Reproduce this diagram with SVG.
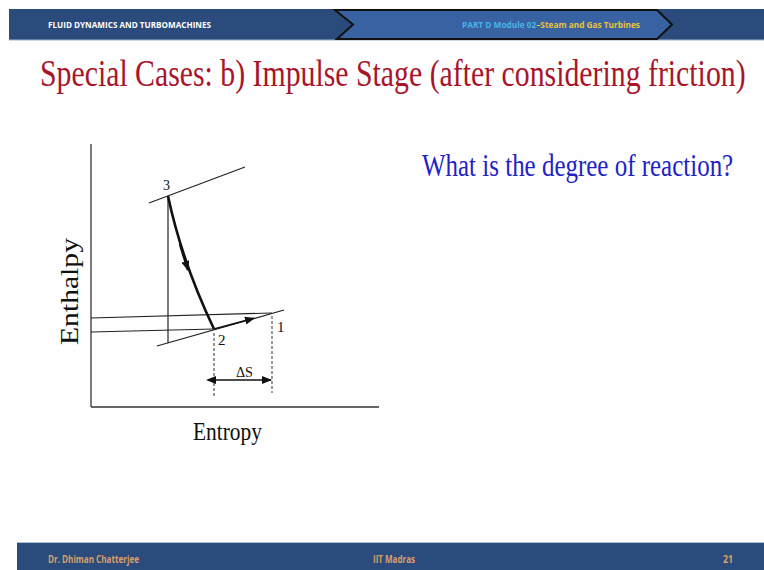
<svg xmlns="http://www.w3.org/2000/svg" width="764" height="570" viewBox="0 0 764 570">
<style>
.ln{stroke:#222;stroke-width:1.2;fill:none}
.dash{stroke:#333;stroke-width:1;stroke-dasharray:3,2;fill:none}
.lbl{font-family:"Liberation Serif",serif;fill:#111}
.hdr{font-family:"Open Sans","Liberation Sans",sans-serif;font-weight:bold}
</style>
<defs>
<marker id="ah" markerWidth="10" markerHeight="8" refX="9" refY="4" orient="auto" markerUnits="userSpaceOnUse">
<path d="M0,0 L10,4 L0,8 Z" fill="#111"/>
</marker>
<marker id="ahs" markerWidth="10" markerHeight="8" refX="1" refY="4" orient="auto-start-reverse" markerUnits="userSpaceOnUse">
<path d="M0,0 L10,4 L0,8 Z" fill="#111"/>
</marker>
</defs>
<rect width="764" height="570" fill="#fdfefd"/>
<g id="header">
<rect x="9" y="9" width="755" height="31" fill="#2b4b7c"/>
<line x1="9" y1="40" x2="764" y2="40" stroke="#9fb6d0" stroke-width="1"/>
<path d="M335,10 L657,10 L672,24.5 L657,39 L337,39 L353,24.5 Z" fill="#3862a2" stroke="#111" stroke-width="2"/>
<text class="hdr" x="48" y="28" font-size="9" fill="#ffffff" textLength="163" lengthAdjust="spacingAndGlyphs">FLUID DYNAMICS AND TURBOMACHINES</text>
<text class="hdr" x="462" y="28" font-size="9" textLength="178" lengthAdjust="spacingAndGlyphs"><tspan fill="#4bb3ea">PART D  Module 02</tspan><tspan fill="#e9c43a">–Steam and Gas Turbines</tspan></text>
</g>
<g id="title">
<text transform="translate(40,86) scale(0.8,1)" font-family="Liberation Serif,serif" font-size="38" fill="#a8152a" textLength="882" lengthAdjust="spacingAndGlyphs">Special Cases: b) Impulse Stage (after considering friction)</text>
</g>
<g id="question">
<text transform="translate(422,176) scale(0.8,1)" font-family="Liberation Serif,serif" font-size="31" fill="#2222c4" textLength="389" lengthAdjust="spacingAndGlyphs">What is the degree of reaction?</text>
</g>
<g id="axes">
<line x1="91" y1="144" x2="91" y2="407" stroke="#333" stroke-width="1.3"/>
<line x1="91" y1="407" x2="379" y2="407" stroke="#333" stroke-width="1.3"/>
<text class="lbl" transform="translate(78,345) rotate(-90)" font-size="25" textLength="107" lengthAdjust="spacingAndGlyphs">Enthalpy</text>
<text class="lbl" x="193" y="440" font-size="25" textLength="69" lengthAdjust="spacingAndGlyphs">Entropy</text>
</g>
<g id="connectors">
<line class="ln" x1="149" y1="203" x2="245" y2="167"/>
<line class="ln" x1="157" y1="346" x2="284" y2="310"/>
<line class="ln" x1="168" y1="196" x2="168" y2="343"/>
<line class="ln" x1="91" y1="318" x2="272" y2="313"/>
<line class="ln" x1="91" y1="332" x2="214" y2="329"/>
<path d="M168,196 Q182,262 214,329" stroke="#111" stroke-width="2.6" fill="none"/>
<line x1="180" y1="244" x2="188" y2="270" stroke="#111" stroke-width="2.6" marker-end="url(#ah)"/>
<line x1="214" y1="329" x2="254" y2="318.3" stroke="#111" stroke-width="1.6" marker-end="url(#ah)"/>
<line class="dash" x1="214" y1="333" x2="214" y2="398"/>
<line class="dash" x1="272" y1="316" x2="272" y2="393"/>
<line x1="215" y1="380" x2="271" y2="380" stroke="#111" stroke-width="1.4" marker-start="url(#ahs)" marker-end="url(#ah)"/>
</g>
<g id="labels">
<text class="lbl" x="163" y="190" font-size="14">3</text>
<text class="lbl" x="218" y="345" font-size="15">2</text>
<text class="lbl" x="277" y="332" font-size="15">1</text>
<text class="lbl" x="236" y="377" font-size="14" textLength="17" lengthAdjust="spacingAndGlyphs">ΔS</text>
</g>
<g id="footer">
<line x1="17" y1="542.5" x2="764" y2="542.5" stroke="#a8c2da" stroke-width="1"/>
<rect x="17" y="543" width="747" height="27" fill="#2b4b7c"/>
<text class="hdr" x="48" y="563" font-size="10" fill="#d9a06a" textLength="91" lengthAdjust="spacingAndGlyphs">Dr.  Dhiman Chatterjee</text>
<text class="hdr" x="373" y="563" font-size="10" fill="#d9a06a" textLength="42" lengthAdjust="spacingAndGlyphs">IIT Madras</text>
<text class="hdr" x="723" y="563" font-size="10" fill="#d9a06a" textLength="10" lengthAdjust="spacingAndGlyphs">21</text>
</g>
</svg>
